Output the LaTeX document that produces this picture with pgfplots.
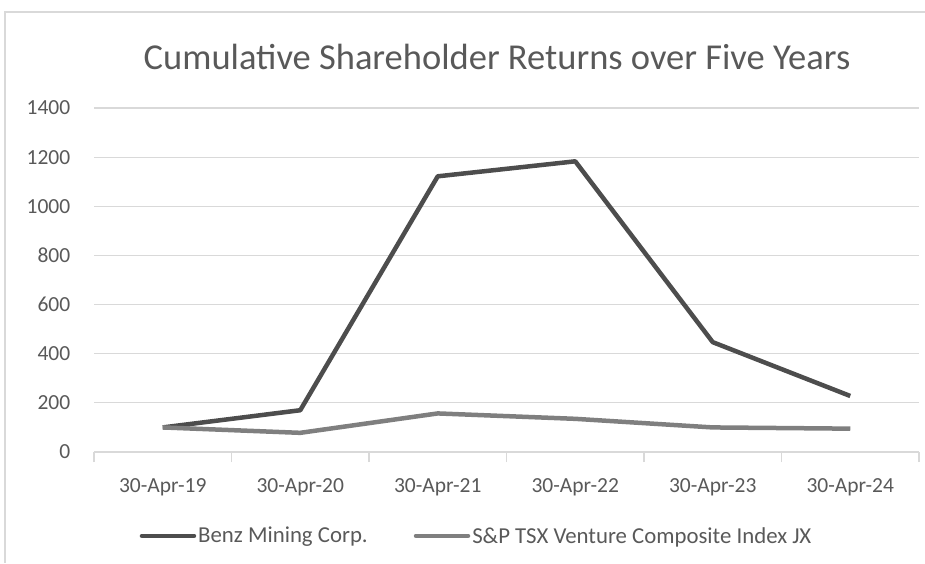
\documentclass[border=0pt]{standalone}
\usepackage{pgfplots}
\pgfplotsset{compat=1.18}
\usepackage{fontspec}
\setmainfont{Carlito}
\definecolor{txt}{HTML}{595959}
\definecolor{gridc}{HTML}{D9D9D9}
\definecolor{benz}{HTML}{4D4D4D}
\definecolor{tsx}{HTML}{7F7F7F}
\begin{document}
\begin{tikzpicture}[x=1pt,y=1pt]
\useasboundingbox (0,0) rectangle (925,563);
\draw[gridc,line width=1.2pt] (5,0) -- (5,551) -- (925,551);
\node[text=txt,font=\fontsize{36.5}{40}\selectfont] at (497,506) {Cumulative Shareholder Returns over Five Years};
\begin{axis}[
  at={(94pt,111pt)}, anchor=south west,
  scale only axis, width=825pt, height=344pt,
  xmin=-0.5, xmax=5.5, ymin=0, ymax=1400,
  xtick={0,...,5},
  xticklabels={30-Apr-19,30-Apr-20,30-Apr-21,30-Apr-22,30-Apr-23,30-Apr-24},
  major x tick style={draw=none},
  minor xtick={-0.5,0.5,...,5.5},
  minor tick length=10pt,
  tick align=outside,
  minor x tick style={draw=gridc, line width=1.2pt},
  ytick={0,200,...,1400},
  ymajorgrids, major grid style={draw=gridc, line width=1.2pt},
  major y tick style={draw=none},
  axis x line*=bottom, axis y line*=left,
  x axis line style={draw=gridc, line width=1.2pt, -},
  y axis line style={draw=none},
  ticklabel style={text=txt, font=\fontsize{21.5}{25}\selectfont},
  yticklabel style={xshift=-16pt},
  xticklabel style={yshift=-19pt},
  /pgf/number format/assume math mode=true,
  yticklabel={\pgfmathprintnumber[1000 sep={}]{\tick}},
  legend columns=2,
  legend style={at={(0.5,0)}, anchor=north, xshift=-30pt, yshift=-71pt, draw=none, fill=none,
    font=\fontsize{22.8}{26}\selectfont, text=txt,
    /tikz/every even column/.append style={column sep=44pt}},
  legend image code/.code={\draw[#1, line cap=round] (0pt,0pt) -- (52pt,0pt);},
  legend cell align=left,
]
\addplot[benz, line width=4.5pt, line join=round] coordinates {(0,100) (1,170) (2,1122) (3,1183) (4,447) (5,228)};
\addlegendentry{Benz Mining Corp.}
\addplot[tsx, line width=4.5pt, line join=round] coordinates {(0,100) (1,78) (2,157) (3,135) (4,100) (5,95)};
\addlegendentry{S\&P TSX Venture Composite Index JX}
\end{axis}
\end{tikzpicture}
\end{document}
